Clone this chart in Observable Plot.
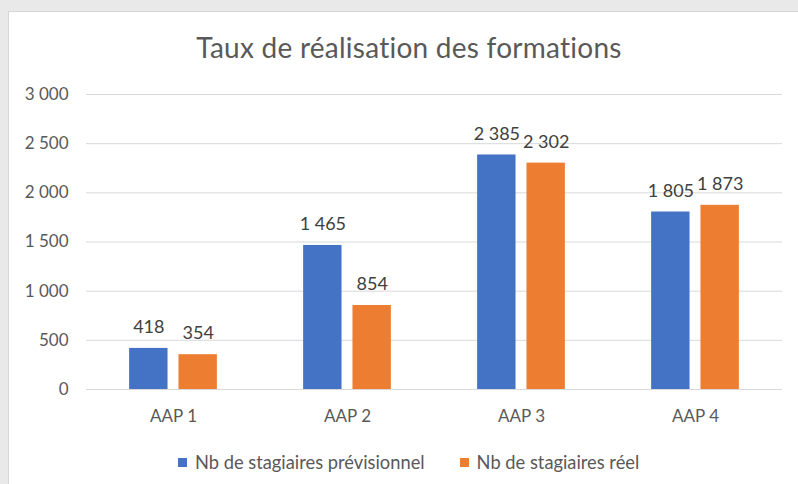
<!DOCTYPE html>
<html>
<head>
<meta charset="utf-8">
<script src="https://cdn.jsdelivr.net/npm/d3@7"></script>
<script src="https://cdn.jsdelivr.net/npm/@observablehq/plot@0.6"></script>
<style>
  html, body { margin: 0; padding: 0; }
  body { width: 798px; height: 484px; background: #e9e9e9; position: relative; overflow: hidden; font-family: Lato, "Open Sans", sans-serif; }
  #panel { position: absolute; left: 8px; top: 11px; width: 800px; height: 480px; background: #fff; border: 1px solid #d6d6d6; box-sizing: border-box; }
  #title { position: absolute; left: 0; width: 818px; top: 29px; text-align: center; font-size: 28px; color: #595959; line-height: 36px; letter-spacing: 0.25px; }
  #chart { position: absolute; left: 0; top: 0; }
  #chart svg g[aria-label$="axis"] text { font-size: 17px; }
  #legend { position: absolute; top: 450px; left: 178px; display: flex; align-items: center; font-size: 18.3px; color: #595959; line-height: 24px; }
  .sw { width: 9px; height: 9px; display: inline-block; margin-right: 8px; }
  .item { display: flex; align-items: center; }
</style>
</head>
<body>
<div id="panel"></div>
<div id="chart"></div>
<div id="title">Taux de réalisation des formations</div>
<div id="legend"></div>
<script>
const categories = ["AAP 1", "AAP 2", "AAP 3", "AAP 4"];
const seriesNames = ["Nb de stagiaires prévisionnel", "Nb de stagiaires réel"];
const previsionnel = [418, 1465, 2385, 1805];
const reel = [354, 854, 2302, 1873];
const colors = ["#4472C4", "#ED7D31"];
const yTicks = [0, 500, 1000, 1500, 2000, 2500, 3000];

const rows = [];
categories.forEach((c, i) => {
  rows.push({cat: c, series: seriesNames[0], value: previsionnel[i]});
  rows.push({cat: c, series: seriesNames[1], value: reel[i]});
});

const fmt = v => d3.format(",")(v).replace(/,/g, " ");

const chart = Plot.plot({
  width: 798,
  height: 430,
  marginLeft: 85,
  marginRight: 15,
  marginTop: 94,
  marginBottom: 41,
  style: { fontFamily: "Lato, 'Open Sans', sans-serif", fontSize: "17px", color: "#595959", background: "transparent", overflow: "visible" },
  facet: { data: rows, x: "cat" },
  fx: { domain: categories, padding: 0, label: null, axis: "bottom", tickSize: 0, tickPadding: 20 },
  x: { domain: seriesNames, paddingInner: 0.222, paddingOuter: 0.874, round: false, axis: null },
  y: { domain: [0, 3000], ticks: yTicks, tickFormat: fmt, tickSize: 0, tickPadding: 18, label: null },
  color: { domain: seriesNames, range: colors },
  marks: [
    Plot.ruleY(yTicks, { stroke: "#d9d9d9", strokeWidth: 1 }),
    Plot.barY(rows, { x: "series", y: "value", fill: "series" }),
    Plot.text(rows, { x: "series", y: "value", text: d => fmt(d.value), dy: -21, fill: "#404040", fontSize: 18 })
  ]
});
document.getElementById("chart").appendChild(chart);

const legend = document.getElementById("legend");
seriesNames.forEach((s, i) => {
  const item = document.createElement("div");
  item.className = "item";
  if (i > 0) item.style.marginLeft = "35px";
  const sw = document.createElement("span");
  sw.className = "sw";
  sw.style.background = colors[i];
  item.appendChild(sw);
  const t = document.createElement("span");
  t.textContent = s;
  item.appendChild(t);
  legend.appendChild(item);
});
</script>
</body>
</html>
